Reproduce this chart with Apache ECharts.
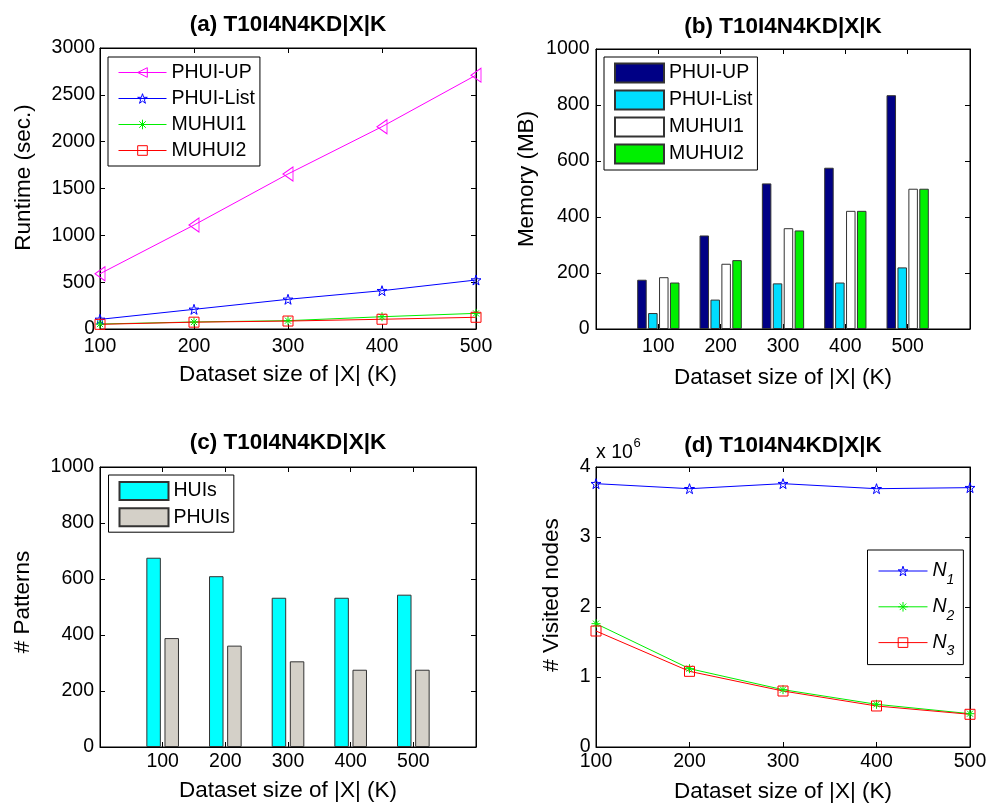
<!DOCTYPE html>
<html>
<head>
<meta charset="utf-8">
<script src="https://cdn.jsdelivr.net/npm/echarts@6/dist/echarts.min.js"></script>
<style>
  html, body { margin: 0; padding: 0; background: #fff; }
  #chart { width: 987px; height: 805px; }
</style>
</head>
<body>
<div id="chart"></div>
<script>
// dataset sizes |X| (K)
var sizes = [100, 200, 300, 400, 500];

// (a) runtime (sec.)
var runtimeUP = [590, 1110, 1655, 2160, 2710];
var runtimeList = [103, 210, 317, 409, 523];
var runtimeM1 = [53, 75, 89, 131, 167];
var runtimeM2 = [50, 73, 85, 104, 125];

// (b) memory (MB)
var memUP = [176, 334, 520, 576, 835];
var memList = [57, 105, 163, 166, 220];
var memM1 = [185, 233, 360, 422, 501];
var memM2 = [166, 246, 352, 422, 501];

// (c) # patterns
var huis = [676, 610, 533, 533, 544];
var phuis = [389, 362, 306, 276, 276];

// (d) # visited nodes
var nodesN1 = [3.762e6, 3.69e6, 3.762e6, 3.69e6, 3.705e6];
var nodesN2 = [1.762e6, 1.119e6, 0.819e6, 0.61e6, 0.476e6];
var nodesN3 = [1.657e6, 1.081e6, 0.8e6, 0.586e6, 0.467e6];

// axis ticks
var runtimeTicks = [0, 500, 1000, 1500, 2000, 2500, 3000];
var memTicks = [0, 200, 400, 600, 800, 1000];
var patternTicks = [0, 200, 400, 600, 800, 1000];
var nodeTicks = [0, 1e6, 2e6, 3e6, 4e6];

var font = 'Liberation Sans, Arial, sans-serif';
var starPath = 'path://M5,0L6.2,3.6L10,3.6L6.9,5.9L8.1,9.5L5,7.3L1.9,9.5L3.1,5.9L0,3.6L3.8,3.6Z';
var astPath = 'path://M5,0L5,10M0,5L10,5M1.6,1.6L8.4,8.4M8.4,1.6L1.6,8.4';
var leftTriPath = 'path://M0,5L10,0L10,10Z';

function pairs(ys) {
  return sizes.map(function (x, i) { return [x, ys[i]]; });
}

function baseAxis(extra) {
  var a = {
    type: 'value',
    axisLine: { show: true, onZero: false, lineStyle: { color: '#000', width: 1 } },
    axisTick: { show: true, inside: true, length: 5, lineStyle: { color: '#000', width: 1 } },
    splitLine: { show: false },
    axisLabel: { color: '#000', fontSize: 19.5, fontFamily: font },
    nameTextStyle: { color: '#000', fontSize: 22.5, fontFamily: font }
  };
  for (var k in extra) a[k] = extra[k];
  return a;
}

function xAxes(g, ticks, name, labelMargin, nameGap, labelFn) {
  var step = ticks[1] - ticks[0];
  var lo = ticks[0], hi = ticks[ticks.length - 1];
  return [
    baseAxis({
      gridIndex: g, position: 'bottom', min: lo, max: hi, interval: step,
      name: name, nameLocation: 'middle', nameGap: nameGap,
      axisLabel: { color: '#000', fontSize: 19.5, fontFamily: font, margin: labelMargin, formatter: labelFn }
    }),
    baseAxis({
      gridIndex: g, position: 'top', min: lo, max: hi, interval: step,
      axisLabel: { show: false }
    })
  ];
}

function yAxes(g, ticks, name, labelMargin, nameGap, shift, labelFn) {
  var step = ticks[1] - ticks[0];
  var lo = ticks[0], hi = ticks[ticks.length - 1];
  return [
    baseAxis({
      gridIndex: g, position: 'left', min: lo, max: hi, interval: step,
      name: name, nameLocation: 'middle', nameGap: nameGap,
      nameTextStyle: { color: '#000', fontSize: 22.5, fontFamily: font, padding: [0, 0, 0, shift] },
      axisLabel: { color: '#000', fontSize: 19.5, fontFamily: font, margin: labelMargin, formatter: labelFn }
    }),
    baseAxis({
      gridIndex: g, position: 'right', min: lo, max: hi, interval: step,
      axisLabel: { show: false }
    })
  ];
}

var catTicks = [0, 100, 200, 300, 400, 500, 600];
function catLabel(v) { return (v === 0 || v === 600) ? '' : String(v); }
function plainLabel(v) { return String(v); }
function millions(v) { return String(v / 1e6); }

function lineSeries(name, color, symbol, size, data, xi, yi) {
  return {
    name: name, type: 'line', xAxisIndex: xi, yAxisIndex: yi,
    data: pairs(data), symbol: symbol, symbolSize: size,
    lineStyle: { color: color, width: 1 },
    itemStyle: { color: 'rgba(0,0,0,0)', borderColor: color, borderWidth: 1 },
    emphasis: { disabled: true }
  };
}

function barSeries(name, color, width, gap, data, xi, yi) {
  return {
    name: name, type: 'bar', xAxisIndex: xi, yAxisIndex: yi,
    data: pairs(data), barWidth: width, barGap: gap,
    itemStyle: { color: color, borderColor: '#333', borderWidth: 1 },
    emphasis: { disabled: true }
  };
}

// legend entry for a line series: thin hollow marker
function lineKey(name, color) {
  return {
    name: name,
    itemStyle: { color: 'rgba(0,0,0,0)', borderColor: color, borderWidth: 1 },
    lineStyle: { color: color, width: 1 }
  };
}

var titleStyle = { color: '#000', fontSize: 22.5, fontWeight: 'bold', fontFamily: font };
var plainStyle = { color: '#000', fontSize: 19.5, fontWeight: 'normal', fontFamily: font };
var legendText = { color: '#000', fontSize: 19.5, fontFamily: font };
function stripTag(name) { return name.replace(/#.*/, ''); }

var grids = [
  { left: 100, top: 48, width: 376, height: 281 },
  { left: 596, top: 49, width: 374, height: 280 },
  { left: 100, top: 467, width: 376, height: 280 },
  { left: 596, top: 467, width: 374, height: 280 }
].map(function (g) {
  g.show = true; g.borderColor = '#000'; g.borderWidth = 1; g.backgroundColor = '#fff';
  g.containLabel = false; g.outerBoundsMode = 'none';
  return g;
});

var chart = echarts.init(document.getElementById('chart'), null, { renderer: 'canvas' });

chart.setOption({
  backgroundColor: '#fff',
  animation: false,
  title: [
    { text: '(a) T10I4N4KD|X|K', left: 288, top: 13, textAlign: 'center', padding: 0, textStyle: titleStyle },
    { text: '(b) T10I4N4KD|X|K', left: 783, top: 15, textAlign: 'center', padding: 0, textStyle: titleStyle },
    { text: '(c) T10I4N4KD|X|K', left: 288, top: 431, textAlign: 'center', padding: 0, textStyle: titleStyle },
    { text: '(d) T10I4N4KD|X|K', left: 783, top: 434, textAlign: 'center', padding: 0, textStyle: titleStyle },
    // exponent of the (d) y axis
    { text: 'x 10', left: 596, top: 442.5, padding: 0, textStyle: plainStyle },
    { text: '6', left: 633.5, top: 437, padding: 0, textStyle: { color: '#000', fontSize: 13, fontWeight: 'normal', fontFamily: font } }
  ],
  grid: grids,
  xAxis: []
    .concat(xAxes(0, sizes, 'Dataset size of |X| (K)', 8, 34, plainLabel))
    .concat(xAxes(1, catTicks, 'Dataset size of |X| (K)', 8, 37, catLabel))
    .concat(xAxes(2, catTicks, 'Dataset size of |X| (K)', 5, 32, catLabel))
    .concat(xAxes(3, sizes, 'Dataset size of |X| (K)', 5, 33.5, plainLabel)),
  yAxis: []
    .concat(yAxes(0, runtimeTicks, 'Runtime (sec.)', 5, 64.5, 22, plainLabel))
    .concat(yAxes(1, memTicks, 'Memory (MB)', 6.5, 58, 20, plainLabel))
    .concat(yAxes(2, patternTicks, '# Patterns', 6, 65.5, 10, plainLabel))
    .concat(yAxes(3, nodeTicks, '# Visited nodes', 5.5, 32.5, 24, millions)),
  legend: [
    {
      data: [
        lineKey('PHUI-UP#rt', '#ff00ff'), lineKey('PHUI-List#rt', '#0000ff'),
        lineKey('MUHUI1#rt', '#00ee00'), lineKey('MUHUI2#rt', '#ff0000')
      ],
      formatter: stripTag, orient: 'vertical', left: 108, top: 57,
      padding: [5.5, 5, 5.5, 10], itemGap: 6, itemWidth: 48, itemHeight: 12, itemTextGap: 6,
      borderColor: '#000', borderWidth: 1, borderRadius: 0, backgroundColor: '#fff',
      textStyle: legendText, selectedMode: false
    },
    {
      data: ['PHUI-UP#mem', 'PHUI-List#mem', 'MUHUI1#mem', 'MUHUI2#mem'],
      formatter: stripTag, orient: 'vertical', left: 604, top: 57, icon: 'rect',
      padding: [5.5, 5, 5.5, 10], itemGap: 6, itemWidth: 49, itemHeight: 19, itemTextGap: 6,
      borderColor: '#000', borderWidth: 1, borderRadius: 0, backgroundColor: '#fff',
      textStyle: legendText, selectedMode: false
    },
    {
      data: ['HUIs', 'PHUIs'],
      formatter: stripTag, orient: 'vertical', left: 108.5, top: 475, icon: 'rect',
      padding: [6, 4, 5, 10], itemGap: 6.2, itemWidth: 49, itemHeight: 18, itemTextGap: 6,
      borderColor: '#000', borderWidth: 1, borderRadius: 0, backgroundColor: '#fff',
      textStyle: legendText, selectedMode: false
    },
    {
      data: [lineKey('N1', '#0000ff'), lineKey('N2', '#00ee00'), lineKey('N3', '#ff0000')],
      formatter: function (name) { return '{n|N}{s|' + name.slice(1) + '}'; },
      orient: 'vertical', left: 867.5, top: 550,
      padding: [5, 9, 6, 10.5], itemGap: 3.8, itemWidth: 49, itemHeight: 12, itemTextGap: 7,
      borderColor: '#000', borderWidth: 1, borderRadius: 0, backgroundColor: '#fff',
      selectedMode: false,
      textStyle: {
        color: '#000', fontFamily: font,
        rich: {
          n: { fontSize: 19.5, fontStyle: 'italic', fontFamily: font, color: '#000', lineHeight: 20, verticalAlign: 'middle' },
          s: { fontSize: 14, fontStyle: 'italic', fontFamily: font, color: '#000', lineHeight: 14, verticalAlign: 'middle', padding: [18, 0, 0, 0] }
        }
      }
    }
  ],
  series: [
    lineSeries('PHUI-UP#rt', '#ff00ff', leftTriPath, [10, 14], runtimeUP, 0, 0),
    lineSeries('PHUI-List#rt', '#0000ff', starPath, 10, runtimeList, 0, 0),
    lineSeries('MUHUI1#rt', '#00ee00', astPath, 9, runtimeM1, 0, 0),
    lineSeries('MUHUI2#rt', '#ff0000', 'rect', 10, runtimeM2, 0, 0),

    barSeries('PHUI-UP#mem', '#000085', 9.5, '15%', memUP, 2, 2),
    barSeries('PHUI-List#mem', '#00ddff', 9.5, '15%', memList, 2, 2),
    barSeries('MUHUI1#mem', '#ffffff', 9.5, '15%', memM1, 2, 2),
    barSeries('MUHUI2#mem', '#00f000', 9.5, '15%', memM2, 2, 2),

    barSeries('HUIs', '#00ffff', 14.5, '25%', huis, 4, 4),
    barSeries('PHUIs', '#d4d0c8', 14.5, '25%', phuis, 4, 4),

    lineSeries('N1', '#0000ff', starPath, 10, nodesN1, 6, 6),
    lineSeries('N2', '#00ee00', astPath, 9, nodesN2, 6, 6),
    lineSeries('N3', '#ff0000', 'rect', 10, nodesN3, 6, 6)
  ]
});
</script>
</body>
</html>
